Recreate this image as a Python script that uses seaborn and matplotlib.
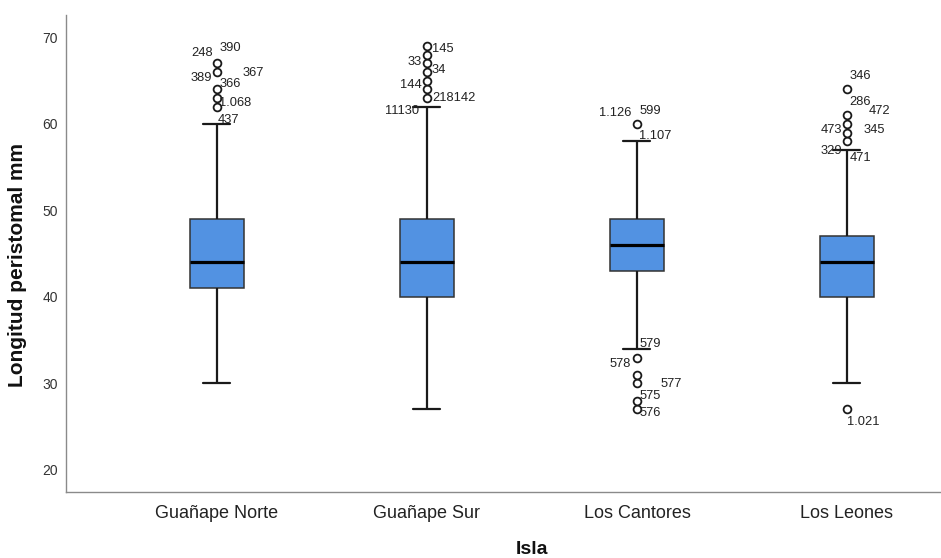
import numpy as np
import pandas as pd
import matplotlib
matplotlib.use("Agg")
import matplotlib.pyplot as plt
import seaborn as sns

# ---------------- data ----------------
islas = ["Guañape Norte", "Guañape Sur", "Los Cantores", "Los Leones"]
q1 = [41, 40, 43, 40]
mediana = [44, 44, 46, 44]
q3 = [49, 49, 49, 47]
bigote_inf = [30, 27, 34, 30]
bigote_sup = [60, 62, 58, 57]
atipicos = [
    [62, 63, 64, 66, 67],
    [63, 64, 65, 66, 67, 68, 69],
    [27, 28, 30, 31, 33, 60],
    [27, 58, 59, 60, 61, 64],
]
# case-number labels shown next to the outliers
etiquetas = [
    ["248", "390", "389", "367", "366", "1.068", "437"],
    ["145", "33", "34", "144", "218142", "11130"],
    ["1.126", "599", "1.107", "579", "578", "577", "575", "576"],
    ["346", "286", "472", "473", "345", "329", "471", "1.021"],
]
# label placement: (x offset in px from box centre, y in data units)
etiq_pos = [
    [(-26, 68.25), (3, 68.83), (-26, 65.27), (25.5, 65.85), (3, 64.61), (2.5, 62.47), (0.5, 60.45)],
    [(5, 68.66), (-19.5, 67.16), (5, 66.23), (-26.5, 64.50), (5, 62.96), (-41.5, 61.55)],
    [(-37.5, 61.32), (2.5, 61.51), (2.5, 58.60), (2.5, 34.61), (-27.5, 32.30), (24, 29.99), (2.5, 28.54), (2.5, 26.64)],
    [(2.3, 65.56), (2, 62.53), (22, 61.49), (-26.3, 59.35), (17, 59.35), (-26.3, 56.87), (3, 56.12), (0, 25.54)],
]

# ---------- build a sample table that reproduces the box statistics ----------
rep = 40
filas = []
for i, isla in enumerate(islas):
    vals = ([bigote_inf[i], bigote_sup[i]] + [q1[i]] * rep + [mediana[i]] * rep
            + [q3[i]] * rep + list(atipicos[i]))
    filas += [(isla, v) for v in vals]
df = pd.DataFrame(filas, columns=["Isla", "Longitud peristomal mm"])

# ---------------- plotting ----------------
sns.set_style("white")
plt.rcParams["font.family"] = ["Liberation Sans", "DejaVu Sans"]

fig = plt.figure(figsize=(9.41, 5.58), dpi=100)
ax = fig.add_axes([66 / 941, 1 - 492 / 558, (940 - 66) / 941, (492 - 15) / 558])

sns.boxplot(
    data=df, x="Isla", y="Longitud peristomal mm", order=islas,
    color="#5292E2", saturation=1, width=0.257, whis=1.5,
    linecolor="#1a1a1a", linewidth=1.2, fliersize=5.6, ax=ax,
    boxprops=dict(edgecolor="#333333", linewidth=1.1),
    medianprops=dict(color="black", linewidth=2.3),
    whiskerprops=dict(color="#1a1a1a", linewidth=1.6),
    capprops=dict(color="#1a1a1a", linewidth=1.6),
    flierprops=dict(marker="o", markerfacecolor="white",
                    markeredgecolor="#1a1a1a", markeredgewidth=1.3),
)

for i in range(len(islas)):
    for txt, (dx, yv) in zip(etiquetas[i], etiq_pos[i]):
        ax.annotate(txt, xy=(i, yv), xytext=(dx * 72 / 100, 0),
                    textcoords="offset points", ha="left", va="center",
                    fontsize=9.3, color="#222222")

ax.set_xlim(-0.719, 3.443)
ax.set_ylim(17.45, 72.6)
ax.set_yticks([20, 30, 40, 50, 60, 70])

for s in ["top", "right"]:
    ax.spines[s].set_visible(False)
for s in ["left", "bottom"]:
    ax.spines[s].set_color("#8a8a8a")
    ax.spines[s].set_linewidth(1.0)

ax.tick_params(axis="y", length=0, pad=6, labelsize=10, labelcolor="#333333")
ax.tick_params(axis="x", length=0, pad=9, labelsize=13, labelcolor="#222222")

ax.set_xlabel("Isla", fontsize=14, fontweight="bold", color="#111111")
ax.set_ylabel("Longitud peristomal mm", fontsize=15, fontweight="bold",
              color="#111111")
ax.xaxis.set_label_coords(0.533, -0.102)
ax.yaxis.set_label_coords(-0.045, 0.476)

fig.savefig("out.png", dpi=100)
